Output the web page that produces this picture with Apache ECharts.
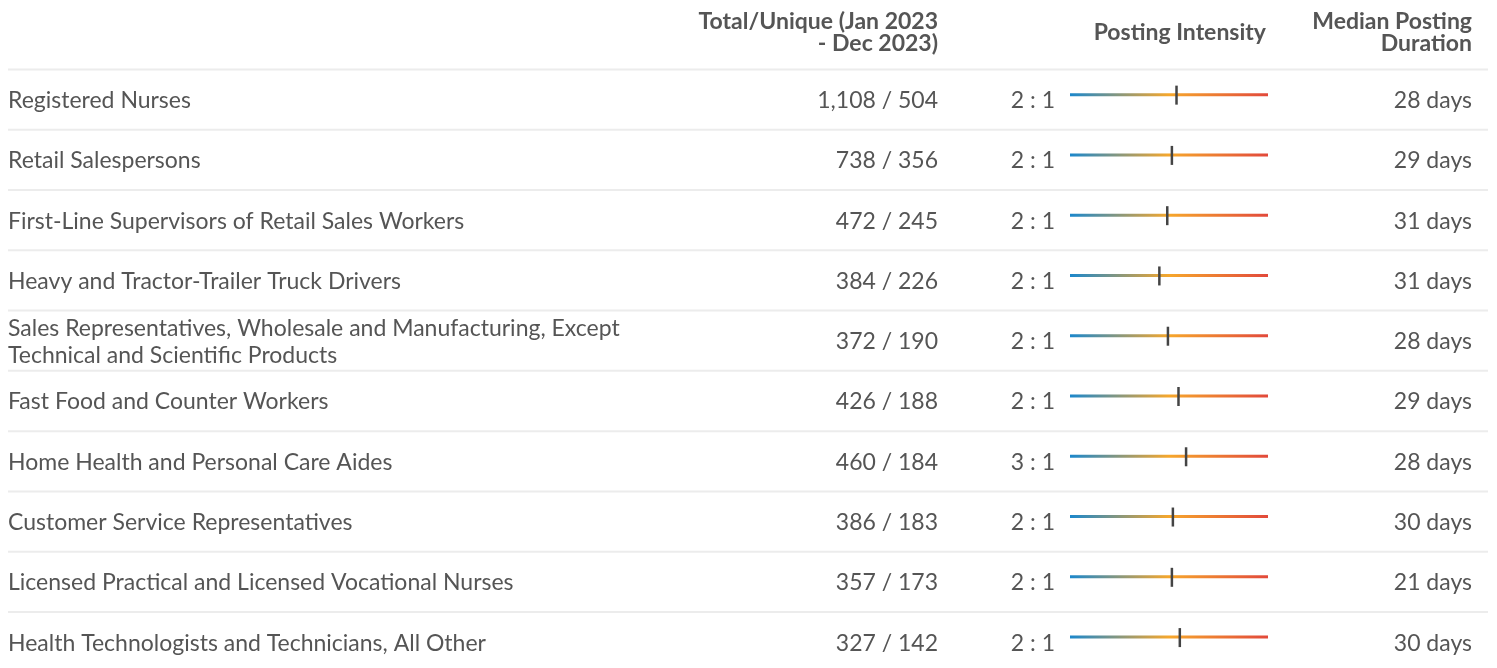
<!DOCTYPE html>
<html>
<head>
<meta charset="utf-8">
<script src="https://cdn.jsdelivr.net/npm/echarts@6/dist/echarts.min.js"></script>
<style>
  html, body { margin: 0; padding: 0; background: #fff; }
  #main { width: 1497px; height: 668px; }
</style>
</head>
<body>
<div id="main"></div>
<script>
// rows of the table
var occupations = [
  'Registered Nurses',
  'Retail Salespersons',
  'First-Line Supervisors of Retail Sales Workers',
  'Heavy and Tractor-Trailer Truck Drivers',
  'Sales Representatives, Wholesale and Manufacturing, Except\nTechnical and Scientific Products',
  'Fast Food and Counter Workers',
  'Home Health and Personal Care Aides',
  'Customer Service Representatives',
  'Licensed Practical and Licensed Vocational Nurses',
  'Health Technologists and Technicians, All Other'
];
var totalPostings = [1108, 738, 472, 384, 372, 426, 460, 386, 357, 327];
var uniquePostings = [504, 356, 245, 226, 190, 188, 184, 183, 173, 142];
var intensityLabel = ['2 : 1', '2 : 1', '2 : 1', '2 : 1', '2 : 1', '2 : 1', '3 : 1', '2 : 1', '2 : 1', '2 : 1'];
// marker position on the intensity scale
var intensityValue = [2.22, 2.08, 1.94, 1.70, 1.96, 2.28, 2.51, 2.11, 2.08, 2.32];
var medianDays = [28, 29, 31, 31, 28, 29, 28, 30, 21, 30];

var scaleMin = -1, scaleMax = 5;
var textColor = '#555';
var font = 'Lato, "Open Sans", sans-serif';

function fmt(n) {
  return n.toLocaleString('en-US');
}

var rows = occupations.map(function (name, i) {
  return [intensityValue[i], i];
});

function renderRow(params, api) {
  var i = api.value(1);
  var start = api.coord([scaleMin, i]);
  var end = api.coord([scaleMax, i]);
  var mark = api.coord([api.value(0), i]);
  var band = Math.abs(api.size([0, 1])[1]);
  var cy = start[1];
  var top = cy - band / 2;
  var barY = cy - 5;
  var txt = function (x, s, align) {
    return {
      type: 'text',
      style: {
        x: x, y: cy + 1, text: s, fill: textColor,
        font: '23px ' + font, lineHeight: 27,
        align: align, verticalAlign: 'middle'
      }
    };
  };
  return {
    type: 'group',
    children: [
      {
        type: 'line',
        shape: { x1: 8, y1: top, x2: 1488, y2: top },
        style: { stroke: '#ececec', lineWidth: 2 }
      },
      txt(8, occupations[i], 'left'),
      txt(938, fmt(totalPostings[i]) + ' / ' + fmt(uniquePostings[i]), 'right'),
      txt(1055, intensityLabel[i], 'right'),
      {
        type: 'rect',
        shape: { x: start[0], y: barY - 1.5, width: end[0] - start[0], height: 3 },
        style: {
          fill: new echarts.graphic.LinearGradient(0, 0, 1, 0, [
            { offset: 0, color: '#1b87cc' },
            { offset: 0.5, color: '#f6a72c' },
            { offset: 1, color: '#e2493b' }
          ])
        }
      },
      {
        type: 'rect',
        shape: { x: mark[0] - 1, y: barY - 9, width: 2.5, height: 19 },
        style: { fill: '#444' }
      },
      txt(1472, medianDays[i] + ' days', 'right')
    ]
  };
}

var chart = echarts.init(document.getElementById('main'));
chart.setOption({
  animation: false,
  grid: { left: 1070, width: 198, top: 69.5, bottom: 0 },
  xAxis: { type: 'value', min: scaleMin, max: scaleMax, show: false },
  // last row runs past the bottom edge of the picture
  yAxis: { type: 'value', min: -0.5, max: 9.43, inverse: true, show: false },
  graphic: [
    {
      type: 'text',
      style: {
        x: 938, y: 11, text: 'Total/Unique (Jan 2023\n- Dec 2023)',
        fill: textColor, font: 'bold 23px ' + font, lineHeight: 22,
        align: 'right', verticalAlign: 'top'
      }
    },
    {
      type: 'text',
      style: {
        x: 1266, y: 33, text: 'Posting Intensity',
        fill: textColor, font: 'bold 23px ' + font,
        align: 'right', verticalAlign: 'middle'
      }
    },
    {
      type: 'text',
      style: {
        x: 1472, y: 11, text: 'Median Posting\nDuration',
        fill: textColor, font: 'bold 23px ' + font, lineHeight: 22,
        align: 'right', verticalAlign: 'top'
      }
    }
  ],
  series: [{
    type: 'custom',
    renderItem: renderRow,
    data: rows,
    encode: { x: 0, y: 1 },
    clip: false
  }]
});
</script>
</body>
</html>
